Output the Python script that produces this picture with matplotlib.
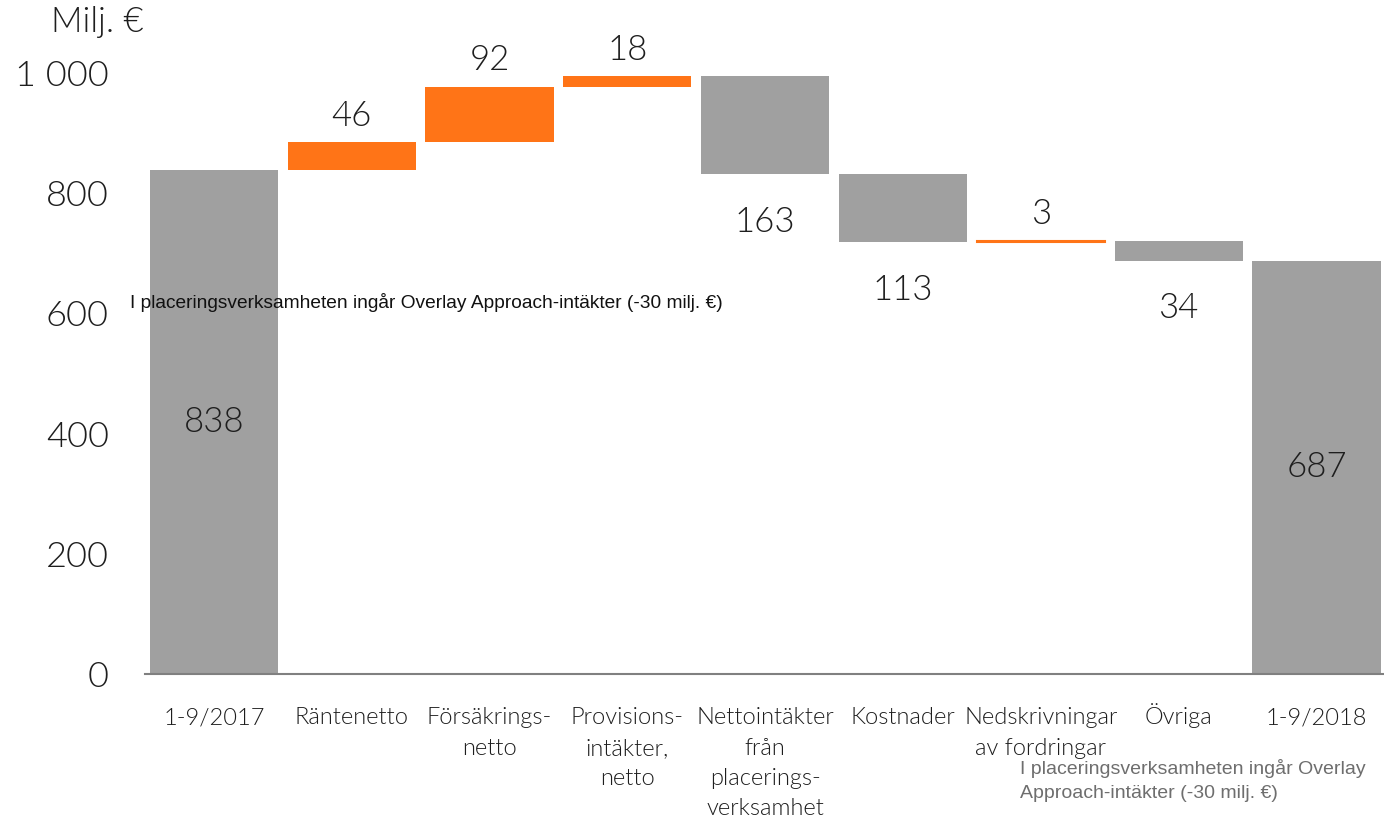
import matplotlib
matplotlib.use('Agg')
import matplotlib.pyplot as plt
import matplotlib.transforms as mtransforms
import numpy as np

categories = ["1-9/2017", "Räntenetto", "Försäkrings-\nnetto", "Provisions-\nintäkter,\nnetto",
              "Nettointäkter\nfrån\nplacerings-\nverksamhet", "Kostnader", "Nedskrivningar\nav fordringar",
              "Övriga", "1-9/2018"]
changes = [838, 46, 92, 18, -163, -113, 3, -34, 687]
kinds = ["total", "up", "up", "up", "down", "down", "up", "down", "total"]
yticks = [0, 200, 400, 600, 800, 1000]

GRAY = '#a0a0a0'
ORANGE = '#ff7417'
TXT = '#1e1e1e'
W = 300
plt.rcParams['font.family'] = ['Lato', 'DejaVu Sans']

fig = plt.figure(figsize=(13.84, 8.26), dpi=100)
ax = fig.add_axes([0.1048, 0.184, 0.8952, 0.816])

x = np.arange(len(categories))
level = 0
for i, (c, k) in enumerate(zip(changes, kinds)):
    if k == "total":
        bottom, height = 0, c
        level = c
        color = GRAY
    else:
        bottom = level if c > 0 else level + c
        height = abs(c)
        level += c
        color = ORANGE if k == "up" else GRAY
    # thin bars still need to show, so give them an edge in the same colour
    ax.bar(x[i], height, bottom=bottom, width=0.93, color=color, edgecolor=color,
           linewidth=1.5 if height < 10 else 0)
    if k == "total":
        ax.text(x[i], bottom + height / 2, str(c), ha='center', va='center',
                fontsize=25, color=TXT, fontweight=W)
    elif c > 0:
        ax.text(x[i], bottom + height + 18, str(abs(c)), ha='center', va='bottom',
                fontsize=25, color=TXT, fontweight=W)
    else:
        ax.text(x[i], bottom - 52, str(abs(c)), ha='center', va='top',
                fontsize=25, color=TXT, fontweight=W)

ax.set_xlim(-0.5, 8.49)
ax.set_ylim(0, 1121)
ax.set_yticks(yticks)
ax.set_yticklabels([f"{v:,}".replace(",", " ") for v in yticks], fontsize=26, color=TXT,
                   fontweight=W)
ax.set_xticks(x)
ax.set_xticklabels(categories, fontsize=17, color=TXT, va='top', linespacing=1.55,
                   fontweight=W)
ax.tick_params(axis='both', length=0)
ax.tick_params(axis='y', pad=26)
ax.tick_params(axis='x', pad=24)
for s in ['top', 'right', 'left']:
    ax.spines[s].set_visible(False)
ax.spines['bottom'].set_color('#808080')
ax.spines['bottom'].set_linewidth(1.5)

# the umlaut pushes "Övriga" down a little; line it up with the others
lab = ax.get_xticklabels()[7]
lab.set_transform(lab.get_transform() + mtransforms.ScaledTranslation(0, 4 / 100, fig.dpi_scale_trans))

fig.text(0.037, 0.973, "Milj. €", fontsize=25, color=TXT, va='center', ha='left',
         fontweight=W)
fig.text(0.094, 0.634, "I placeringsverksamheten ingår Overlay Approach-intäkter (-30 milj. €)",
         fontsize=13.8, color='#111111', va='center', ha='left',
         family=['Liberation Sans', 'DejaVu Sans'])
fig.text(0.737, 0.055, "I placeringsverksamheten ingår Overlay\nApproach-intäkter (-30 milj. €)",
         fontsize=14, color='#6e6e6e', va='center', ha='left', linespacing=1.55,
         family=['Liberation Sans', 'DejaVu Sans'])

fig.savefig('out.png', dpi=100)
plt.close(fig)
